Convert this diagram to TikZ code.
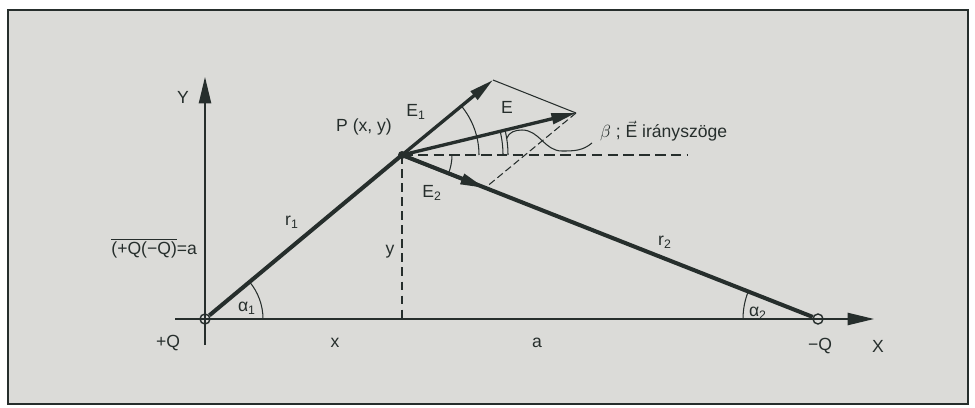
\documentclass[tikz,border=0pt]{standalone}
\usepackage{fontspec}
\setmainfont{Liberation Sans}
\usetikzlibrary{arrows.meta}
\definecolor{ink}{RGB}{38,46,44}
\definecolor{paper}{RGB}{219,219,216}
\begin{document}
\begin{tikzpicture}[x=0.02cm,y=0.02cm,
  axis/.style={ink,line width=0.8pt,-{Triangle[length=15pt,width=7pt]}},
  distline/.style={ink,line width=2.3pt},
  field/.style={ink,line width=1.9pt,-{Triangle[length=14pt,width=6pt]}},
  thinline/.style={ink,line width=0.6pt},
  charge/.style={circle,draw=ink,line width=0.8pt,inner sep=0pt,minimum size=10*0.02cm},
  lbl/.style={font=\fontsize{10}{12}\selectfont,inner sep=1pt,text=ink}]
 \useasboundingbox (0,0) rectangle (975,407);
 \draw[fill=paper,draw=ink,line width=1.6pt] (8,3) rectangle (968,397);
 % points of the figure
 \coordinate (O) at (205,88);
 \coordinate (N) at (818,88);
 \coordinate (Px) at (402,88);
 \coordinate (H) at (688,252);
 \coordinate (Ybot) at (205,62);
 \coordinate (Ytop) at (205,330);
 \coordinate (Xl) at (175,88);
 \coordinate (Xr) at (874,88);
 \draw[axis] (Ybot)--(Ytop);
 \draw[axis] (Xl)--(Xr);
 \node[charge] (Qp) at (O) {};
 \node[charge] (Qm) at (N) {};
 \node[circle,fill=ink,inner sep=0pt,minimum size=8*0.02cm] (P) at (402,252) {};
 \coordinate (E1) at (493,327);
 \coordinate (E2) at (485,219);
 \coordinate (E) at (576,294);
 % distances and field vectors
 \draw[thinline,dash pattern=on 5pt off 3pt] (P.center)--(Px);
 \draw[thinline,dash pattern=on 6pt off 3pt] (P.center)--(H);
 \draw[distline] (Qp)--(P.center);
 \draw[distline] (P.center)--(Qm);
 \draw[field] (P.center)--(E1);
 \draw[field] (P.center)--(E);
 \draw[field] (P.center)--(E2);
 \draw[thinline] (E1)--(E);
 \draw[thinline,dash pattern=on 4pt off 2pt] (E)--(E2);
 % angles
 \draw[thinline] (O) ++(0:58) arc[start angle=0,end angle=39.8,radius=58];
 \draw[thinline] (N) ++(158.5:75) arc[start angle=158.5,end angle=180,radius=75];
 \draw[thinline] (P.center) ++(0:77) arc[start angle=0,end angle=39.8,radius=77];
 \draw[thinline] (P.center) ++(0:101) arc[start angle=0,end angle=13.6,radius=101];
 \draw[thinline] (P.center) ++(0:106) arc[start angle=0,end angle=13.6,radius=106];
 \draw[thinline] (P.center) ++(-21.5:50) arc[start angle=-21.5,end angle=0,radius=50];
 \coordinate (Bs) at ([shift={(9:106)}]P.center);
 \coordinate (Be) at (592,264);
 \node[lbl,anchor=west] (betalbl) at (598,276) {$\beta$ ; $\vec{\mbox{E}}$ irányszöge};
 \draw[thinline] (Bs) to[out=70,in=180] (522,277) to[out=0,in=180] (562,256) to[out=0,in=220] (Be);
 % labels
 \node[lbl] (Ylbl) at (183,310) {Y};
 \node[lbl] (Xlbl) at (878,61) {X};
 \node[lbl] (Qplbl) at (168,64) {+Q};
 \node[lbl] (Qmlbl) at (820,61) {−Q};
 \node[lbl] (xlbl) at (335,64) {x};
 \node[lbl] (albl) at (537,64) {a};
 \node[lbl] (ylbl) at (390,155) {y};
 \node[lbl] (r1lbl) at (292,185) {r\textsubscript{1}};
 \node[lbl] (r2lbl) at (665,165) {r\textsubscript{2}};
 \node[lbl] (Plbl) at (364,280) {P (x, y)};
 \node[lbl] (E1lbl) at (416,295) {E\textsubscript{1}};
 \node[lbl] (Elbl) at (507,300) {E};
 \node[lbl] (E2lbl) at (432,214) {E\textsubscript{2}};
 \node[lbl] (a1lbl) at (247,99) {α\textsubscript{1}};
 \node[lbl] (a2lbl) at (758,94) {α\textsubscript{2}};
 \node[lbl,anchor=east] (dlbl) at (199,159) {$\overline{\mbox{(+Q(−Q)}}$=a};
\end{tikzpicture}
\end{document}
